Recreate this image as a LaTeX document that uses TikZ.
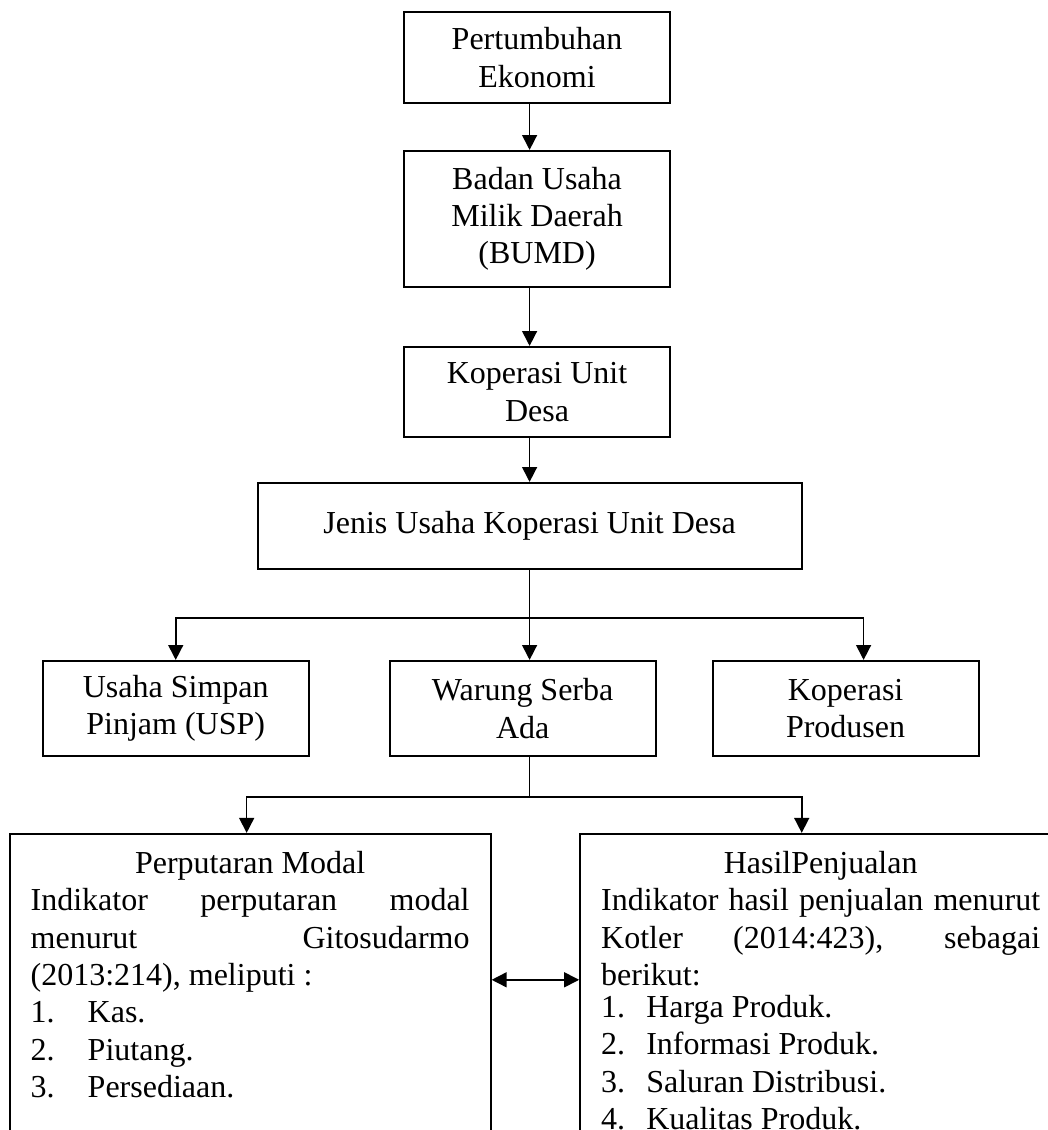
\documentclass[tikz,border=0pt]{standalone}
\usepackage{fontspec}
\setmainfont{Liberation Serif}
\usetikzlibrary{arrows.meta, positioning}
\tikzset{
	box/.style      ={rectangle, draw=black, line width=0.75pt, align=center, inner sep=2pt},
	flowarrow/.style={-{Triangle[length=5.6pt, width=5.6pt]}, line width=0.6pt},
	% two-way link
	twoway/.style   ={{Triangle[length=5.6pt, width=5.6pt]}-{Triangle[length=5.6pt, width=5.6pt]}, line width=0.6pt},
}

\begin{document}
\begin{tikzpicture}[every node/.style={font=\fontsize{12}{14}\selectfont},
			colbox/.style={box, minimum width=100pt},
			rowbox/.style={box, minimum width=99.75pt, minimum height=35.6pt},
			txtbox/.style={rectangle, draw=black, line width=0.75pt, text width=164.6pt, inner xsep=7.9pt, inner ysep=6.5pt, align=justify}]
			\useasboundingbox (0,0) rectangle (393pt,-423.75pt);
			\clip (0,0) rectangle (393pt,-423.75pt);
			\node[colbox, minimum height=34pt] (pe) at (201.4pt,-21.6pt) {Pertumbuhan\\Ekonomi};
			\node[colbox, minimum height=51pt, below=17.25pt of pe] (bumd) {Badan Usaha\\Milik Daerah\\(BUMD)};
			\node[colbox, minimum height=33.75pt, below=21.75pt of bumd] (kud) {Koperasi Unit\\Desa};
			\node[box, minimum width=204pt, minimum height=32.25pt, below=16.5pt of kud, xshift=-2.8pt] (jenis) {Jenis Usaha Koperasi Unit Desa};
			\node[rowbox, below=33.75pt of jenis, xshift=-2.6pt] (wsa) {Warung Serba\\Ada};
			\node[rowbox, left=29.6pt of wsa] (usp) {Usaha Simpan\\Pinjam (USP)};
			\node[rowbox, right=20.6pt of wsa] (kp) {Koperasi\\Produsen};
			\node[txtbox, below=28.5pt of wsa, xshift=-102.2pt] (pm)
			{\makebox[\linewidth]{Perputaran Modal}\\
				\makebox[\linewidth][s]{Indikator perputaran modal}\\
				\makebox[\linewidth][s]{menurut Gitosudarmo}\\
				(2013:214), meliputi :\\
				\makebox[21.4pt][l]{1.}Kas.\\
				\makebox[21.4pt][l]{2.}Piutang.\\
				\makebox[21.4pt][l]{3.}Persediaan.\rule[-40pt]{0pt}{40pt}};
			\node[txtbox, below=28.5pt of wsa, xshift=111.75pt] (hp)
			{\makebox[\linewidth]{HasilPenjualan}\\
				\makebox[\linewidth][s]{Indikator hasil penjualan menurut}\\
				\makebox[\linewidth][s]{Kotler (2014:423), sebagai}\\
				berikut:\\[-2pt]
				\makebox[16.9pt][l]{1.}Harga Produk.\\
				\makebox[16.9pt][l]{2.}Informasi Produk.\\
				\makebox[16.9pt][l]{3.}Saluran Distribusi.\\
				\makebox[16.9pt][l]{4.}Kualitas Produk.\rule[-30pt]{0pt}{30pt}};
			\draw[flowarrow] (pe.south -| jenis.north) -- (bumd.north -| jenis.north);
			\draw[flowarrow] (bumd.south -| jenis.north) -- (kud.north -| jenis.north);
			\draw[flowarrow] (kud.south -| jenis.north) -- (jenis.north);
			\draw[flowarrow] (jenis.south) -- ++(0,-18pt) -| (usp.north);
			\draw[flowarrow] (jenis.south) -- (jenis.south |- wsa.north);
			\draw[flowarrow] (jenis.south) -- ++(0,-18pt) -| ([xshift=6.75pt]kp.north);
			\draw[flowarrow] (jenis.south |- wsa.south) -- ++(0,-15pt) -| ([xshift=-1.3pt]pm.north);
			\draw[flowarrow] (jenis.south |- wsa.south) -- ++(0,-15pt) -| ([xshift=-7.1pt]hp.north);
			\draw[twoway] ([yshift=-55.1pt]pm.north east) -- ([yshift=-55.1pt]hp.north west);
		\end{tikzpicture}
\end{document}
